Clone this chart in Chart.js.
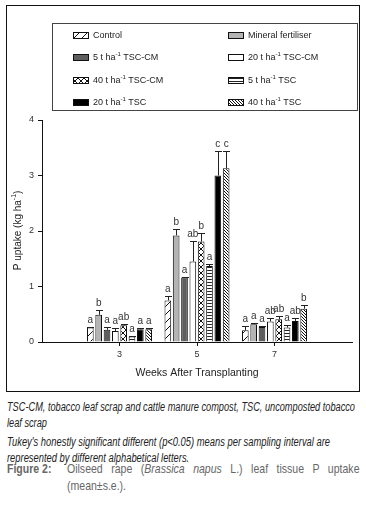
<!DOCTYPE html>
<html>
<head>
<meta charset="utf-8">
<script src="https://cdn.jsdelivr.net/npm/chart.js@4.4.0/dist/chart.umd.min.js"></script>
<style>
body{margin:0;background:#fff;width:366px;height:506px;position:relative;overflow:hidden;font-family:Arial,"Liberation Sans",sans-serif;}
#frame{position:absolute;left:6px;top:5px;width:352px;height:385px;border:1px solid #111;}
#c{position:absolute;left:0;top:0;}
.note{position:absolute;left:7px;font-family:Arial,"Liberation Sans",sans-serif;font-style:italic;font-size:12px;color:#222;line-height:16px;white-space:nowrap;transform-origin:0 0;}
.fig{position:absolute;font-family:Arial,"Liberation Sans",sans-serif;font-size:13.5px;color:#666;line-height:17px;transform-origin:0 0;transform:scaleX(0.78);white-space:nowrap;}
.just{text-align:justify;text-align-last:justify;}
</style>
</head>
<body>
<div id="frame"></div>
<canvas id="c" width="366" height="395"></canvas>
<div class="note" style="top:399px" data-w="348"><span>TSC-CM, tobacco leaf scrap and cattle manure compost, TSC, uncomposted tobacco</span><br>leaf scrap</div>
<div class="note" style="top:434px" data-w="323"><span>Tukey's honestly significant different (p&lt;0.05) means per sampling interval are</span><br>represented by different alphabetical letters.</div>
<div class="fig" style="left:7px;top:460px;font-weight:bold">Figure 2:</div>
<div class="fig" style="left:67px;top:460px;width:375px"><div class="just">Oilseed rape (<i>Brassica napus</i> L.) leaf tissue P uptake</div><div>(mean±s.e.).</div></div>
<script>
var weeks = [3, 5, 7];
var labels = ['Control', 'Mineral fertiliser', '5 t ha^-1 TSC-CM', '20 t ha^-1 TSC-CM',
              '40 t ha^-1 TSC-CM', '5 t ha^-1 TSC', '20 t ha^-1 TSC', '40 t ha^-1 TSC'];
var yTicks = [0, 1, 2, 3, 4];

// P uptake (kg ha-1), standard errors and Tukey letters at weeks 3, 5, 7
var control = [0.26, 0.75, 0.21];
var controlSe = [0.01, 0.08, 0.08];
var controlLetters = ['a', 'a', 'a'];
var mineral = [0.49, 1.92, 0.32];
var mineralSe = [0.09, 0.11, 0.02];
var mineralLetters = ['b', 'b', 'a'];
var cm5 = [0.22, 1.16, 0.27];
var cm5Se = [0.05, 0.02, 0.01];
var cm5Letters = ['a', 'a', 'a'];
var cm20 = [0.20, 1.45, 0.37];
var cm20Se = [0.06, 0.37, 0.06];
var cm20Letters = ['a', 'ab', 'ab'];
var cm40 = [0.30, 1.81, 0.41];
var cm40Se = [0.02, 0.16, 0.05];
var cm40Letters = ['ab', 'b', 'ab'];
var tsc5 = [0.10, 1.37, 0.26];
var tsc5Se = [0.01, 0.03, 0.05];
var tsc5Letters = ['a', 'a', 'a'];
var tsc20 = [0.23, 3.00, 0.38];
var tsc20Se = [0.02, 0.44, 0.05];
var tsc20Letters = ['a', 'c', 'ab'];
var tsc40 = [0.23, 3.13, 0.60];
var tsc40Se = [0.03, 0.32, 0.07];
var tsc40Letters = ['a', 'c', 'b'];

// squeeze the caption lines to the narrow typeface width of the figure
document.querySelectorAll('.note').forEach(function(el) {
	var w = el.querySelector('span').getBoundingClientRect().width;
	el.style.transform = 'scaleX(' + (el.getAttribute('data-w') / w) + ')';
});

var ctx = document.getElementById('c').getContext('2d');

function tile(w, h, draw) {
	var c = document.createElement('canvas');
	c.width = w; c.height = h;
	var g = c.getContext('2d');
	g.fillStyle = '#fff';
	g.fillRect(0, 0, w, h);
	g.strokeStyle = '#111';
	g.fillStyle = '#222';
	g.lineWidth = 1;
	draw(g, w, h);
	return ctx.createPattern(c, 'repeat');
}
function diag(g, s, up) {
	g.beginPath();
	for (var k = -1; k <= 1; k++) {
		if (up) { g.moveTo(k * s, s); g.lineTo(k * s + s, 0); }
		else { g.moveTo(k * s, 0); g.lineTo(k * s + s, s); }
	}
	g.stroke();
}

var fills = [
	tile(8, 8, function(g, s) { diag(g, s, true); }),
	'#b4b4b4',
	'#5e5e5e',
	'#ffffff',
	tile(6, 6, function(g, s) { diag(g, s, true); diag(g, s, false); }),
	tile(4, 3, function(g) { g.fillRect(0, 0, 4, 1); }),
	'#000000',
	tile(3, 3, function(g, s) { diag(g, s, false); })
];

function series(values, se, letters) {
	return { values: values, se: se, letters: letters };
}
var all = [
	series(control, controlSe, controlLetters),
	series(mineral, mineralSe, mineralLetters),
	series(cm5, cm5Se, cm5Letters),
	series(cm20, cm20Se, cm20Letters),
	series(cm40, cm40Se, cm40Letters),
	series(tsc5, tsc5Se, tsc5Letters),
	series(tsc20, tsc20Se, tsc20Letters),
	series(tsc40, tsc40Se, tsc40Letters)
];

var datasets = all.map(function(s, i) {
	return {
		label: labels[i],
		data: weeks.map(function(w, j) { return { x: w, y: s.values[j] }; }),
		se: s.se,
		letters: s.letters,
		backgroundColor: fills[i],
		borderColor: '#111',
		borderWidth: 1,
		categoryPercentage: 0.86,
		barPercentage: 0.8
	};
});

// text with "^-1" drawn as a superscript
function supText(g, text, x, y, size) {
	var parts = text.split('^-1');
	g.font = size + 'px Arial';
	g.fillText(parts[0], x, y);
	x += g.measureText(parts[0]).width;
	if (parts.length > 1) {
		g.font = Math.round(size * 0.65) + 'px Arial';
		g.fillText('-1', x, y - size * 0.4);
		x += g.measureText('-1').width;
		g.font = size + 'px Arial';
		g.fillText(parts[1], x, y);
	}
}

var errorBars = {
	id: 'errorBars',
	afterDatasetsDraw: function(chart) {
		var g = chart.ctx, ys = chart.scales.y;
		g.save();
		chart.data.datasets.forEach(function(ds, i) {
			chart.getDatasetMeta(i).data.forEach(function(bar, j) {
				var top = ys.getPixelForValue(ds.data[j].y + ds.se[j]);
				var bx = Math.round(bar.x) + 0.5, ty = Math.round(top) + 0.5;
				g.strokeStyle = '#222';
				g.lineWidth = 1;
				g.beginPath();
				g.moveTo(bx, bar.y);
				g.lineTo(bx, ty);
				g.moveTo(bx - 3.5, ty);
				g.lineTo(bx + 3.5, ty);
				g.stroke();
				g.fillStyle = '#333';
				g.font = '10px Arial';
				g.textAlign = 'center';
				g.textBaseline = 'alphabetic';
				g.fillText(ds.letters[j], bar.x, top - 4);
			});
		});
		g.restore();
	}
};

var boxLegend = {
	id: 'boxLegend',
	afterDraw: function(chart) {
		var g = chart.ctx;
		g.save();
		g.strokeStyle = '#444';
		g.lineWidth = 1;
		g.strokeRect(52.5, 23.5, 305, 87);
		var rowY = [35, 57, 80, 102];
		var colX = [73, 228];
		chart.data.datasets.forEach(function(ds, i) {
			var x = colX[i % 2], y = rowY[Math.floor(i / 2)];
			g.fillStyle = ds.backgroundColor;
			g.fillRect(x, y - 3, 16, 7);
			g.strokeStyle = '#111';
			g.strokeRect(x + 0.5, y - 2.5, 15, 6);
			g.fillStyle = '#222';
			g.textAlign = 'left';
			g.textBaseline = 'middle';
			supText(g, ds.label, x + 20, y + 1, 9);
		});
		// y axis title
		g.translate(17, 231);
		g.rotate(-Math.PI / 2);
		g.textBaseline = 'middle';
		g.font = '10px Arial';
		var w = g.measureText('P uptake (kg ha)').width + 5;
		g.fillStyle = '#222';
		supText(g, 'P uptake (kg ha^-1)', -w / 2, 1, 10);
		g.restore();
	}
};

new Chart(ctx, {
	type: 'bar',
	data: { datasets: datasets },
	options: {
		responsive: false,
		animation: false,
		layout: { padding: { top: 120, right: 14, left: 0, bottom: 0 } },
		plugins: { legend: { display: false }, tooltip: { enabled: false } },
		scales: {
			x: {
				type: 'linear',
				min: 1,
				max: 9,
				offset: false,
				afterBuildTicks: function(s) { s.ticks = weeks.map(function(w) { return { value: w }; }); },
				afterFit: function(s) { s.height = 53; },
				grid: { offset: false, drawOnChartArea: false, drawTicks: true, tickLength: 4, color: '#111' },
				border: { color: '#111', width: 1 },
				ticks: { color: '#333', font: { size: 9, family: 'Arial' }, padding: 3, maxRotation: 0 },
				title: { display: true, text: 'Weeks After Transplanting', color: '#222',
					font: { size: 10.5, family: 'Arial' }, padding: { top: 4, bottom: 16 } }
			},
			y: {
				min: 0,
				max: 4,
				afterBuildTicks: function(s) { s.ticks = yTicks.map(function(v) { return { value: v }; }); },
				afterFit: function(s) { s.width = 42; },
				grid: { drawOnChartArea: false, drawTicks: true, tickLength: 4, color: '#111' },
				border: { color: '#111', width: 1 },
				ticks: { color: '#333', font: { size: 9, family: 'Arial' }, padding: 4 }
			}
		}
	},
	plugins: [errorBars, boxLegend]
});
</script>
</body>
</html>
